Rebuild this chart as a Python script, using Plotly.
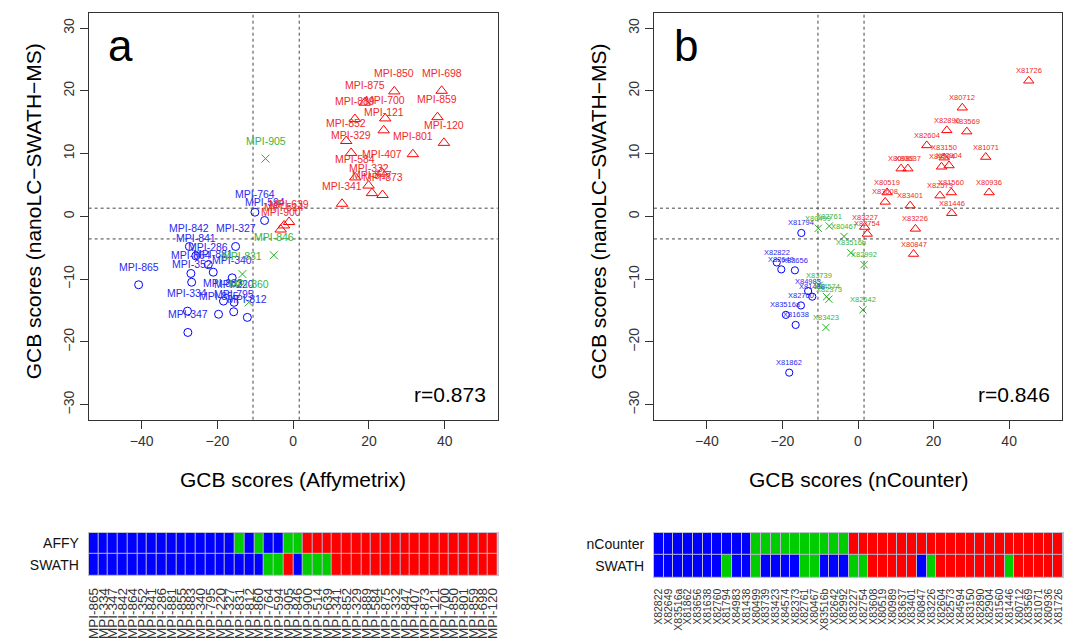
import plotly.graph_objects as go

# The page body adds an 8 px offset; the figure is sized to fill the rest of the window.
OX, OY = 8, 8
W, H = 1072 - OX, 639 - OY

# ---------------- Panel a data (sorted by Affymetrix score) ----------------
a_names = ["MPI-865", "MPI-334", "MPI-347", "MPI-842", "MPI-864", "MPI-352", "MPI-841",
           "MPI-286", "MPI-881", "MPI-855", "MPI-883", "MPI-340", "MPI-795", "MPI-220",
           "MPI-327", "MPI-831", "MPI-812", "MPI-860", "MPI-764", "MPI-594", "MPI-905",
           "MPI-846", "MPI-900", "MPI-514", "MPI-639", "MPI-341", "MPI-852", "MPI-329",
           "MPI-889", "MPI-584", "MPI-875", "MPI-332", "MPI-847", "MPI-407", "MPI-873",
           "MPI-121", "MPI-700", "MPI-850", "MPI-801", "MPI-859", "MPI-698", "MPI-120"]
a_affy = [-40.8, -27.9, -27.8, -27.4, -27.0, -26.8, -25.7, -22.4, -21.1, -19.7, -18.4,
          -16.1, -15.7, -15.6, -15.2, -13.4, -12.1, -11.7, -10.1, -7.55, -7.3, -5.1,
          -3.3, -2.4, -1.1, 12.9, 14.0, 15.3, 16.3, 16.4, 18.9, 19.9, 20.8, 23.4, 23.6,
          23.9, 24.3, 26.7, 31.6, 38.1, 39.2, 39.8]
a_swath = [-10.9, -15.1, -18.5, -4.8, -9.1, -10.5, -6.3, -7.7, -8.9, -15.6, -13.5,
           -9.8, -15.2, -13.7, -4.8, -9.2, -16.1, -13.7, 0.66, -0.66, 9.2, -6.2,
           -2.1, -1.45, -0.9, 2.0, 12.0, 10.1, 15.5, 6.2, 18.1, 4.9, 3.7, 7.0, 3.4,
           13.7, 15.6, 19.9, 9.9, 15.8, 20.0, 11.7]
a_cls_affy = ["B"] * 15 + ["G", "B", "G", "B", "B", "G", "G"] + ["R"] * 20
a_cls_swath = ["B"] * 18 + ["G", "G", "R", "B", "G", "G", "G"] + ["R"] * 17
a_r = "r=0.873"

# ---------------- Panel b data (sorted by nCounter score) ----------------
b_names = ["X82822", "X82649", "X83516a", "X81862", "X83656", "X81638", "X82760", "X81794",
           "X84983", "X81438", "X80499", "X83739", "X83423", "X84574", "X82373", "X82761",
           "X80467", "X83516b", "X82642", "X82992", "X83227", "X82754", "X83608", "X80519",
           "X80989", "X83637", "X83401", "X80847", "X83226", "X82604", "X82573", "X84594",
           "X83150", "X82890", "X82904", "X81560", "X81446", "X80712", "X83569", "X81071",
           "X80936", "X81726"]
b_ncounter = [-21.5, -20.3, -19.1, -18.2, -16.7, -16.5, -15.1, -15.0, -13.2, -12.1,
              -10.5, -10.3, -8.5, -8.3, -7.7, -7.6, -3.7, -1.9, 1.3, 1.6,
              1.75, 2.45, 7.2, 7.7, 11.4, 13.2, 13.8, 14.7, 15.2, 18.2, 21.7, 22.1,
              22.8, 23.5, 24.1, 24.7, 24.8, 27.6, 28.8, 33.8, 34.7, 45.2]
b_swath = [-7.35, -8.45, -15.7, -24.9, -8.6, -17.3, -14.2, -2.65, -11.9, -12.8,
           -1.9, -11.0, -17.7, -12.8, -13.2, -1.55, -3.2, -5.8, -14.9, -7.7,
           -1.7, -2.8, 2.3, 3.8, 7.6, 7.6, 1.7, -6.0, -2.0, 11.3, 3.3, 7.9,
           9.35, 13.7, 8.1, 3.8, 0.5, 17.3, 13.5, 9.45, 3.8, 21.6]
b_cls_nc = ["B"] * 10 + ["G"] * 10 + ["R"] * 22
b_cls_swath = (["B"] * 7 + ["G", "B", "B", "G"] + ["B"] * 4 + ["G", "G"] + ["B"] * 3 +
               ["G", "G"] + ["R"] * 5 + ["B", "G"] + ["R"] * 7 + ["G"] + ["R"] * 5)
b_r = "r=0.846"

# thresholds (dashed lines)
x_cuts = [-10.6, 1.6]
y_cuts = [1.3, -3.6]

COL = {"B": "#0000FF", "G": "#22B022", "R": "#FF0000"}
TXT = {"B": "#2a2aF0", "G": "#3CB43C", "R": "#F02a2a"}
SYM = {"B": "circle-open", "G": "x-thin-open", "R": "triangle-up-open"}
SIZE = {"B": 8, "G": 8, "R": 10}
ZV = {"B": 0, "G": 1, "R": 2}
FONT = "Liberation Sans, Arial, Helvetica, sans-serif"

def px_x(a, b):
    return [(a - OX) / W, (b - OX) / W]

def px_y(top, bot):
    return [1 - (bot - OY) / H, 1 - (top - OY) / H]

def pxx(a):
    return (a - OX) / W

def pxy(a):
    return 1 - (a - OY) / H

fig = go.Figure()
annotations = []
shapes = []

panels = [
    dict(names=a_names, x=a_affy, y=a_swath, cls=a_cls_affy, xa="x", ya="y",
         lab_size=10.5, lab_shift=18, r=a_r, letter="a", msc=1.0),
    dict(names=b_names, x=b_ncounter, y=b_swath, cls=b_cls_nc, xa="x2", ya="y2",
         lab_size=7.5, lab_shift=10, r=b_r, letter="b", msc=0.9),
]

for p in panels:
    for c in ["B", "G", "R"]:
        idx = [i for i, k in enumerate(p["cls"]) if k == c]
        fig.add_trace(go.Scatter(
            x=[p["x"][i] for i in idx], y=[p["y"][i] for i in idx],
            mode="markers", xaxis=p["xa"], yaxis=p["ya"], showlegend=False,
            marker=dict(symbol=SYM[c], size=SIZE[c] * p["msc"], color=COL[c],
                        line=dict(width=1, color=COL[c])),
            hoverinfo="skip"))
    for i, nm in enumerate(p["names"]):
        annotations.append(dict(
            x=p["x"][i], y=p["y"][i], xref=p["xa"], yref=p["ya"], text=nm,
            showarrow=False, yshift=p["lab_shift"], xanchor="center", yanchor="middle",
            font=dict(size=p["lab_size"], color=TXT[p["cls"][i]], family=FONT)))
    for v in x_cuts:
        shapes.append(dict(type="line", xref=p["xa"], yref=p["ya"] + " domain",
                           x0=v, x1=v, y0=0, y1=1,
                           line=dict(color="#444", width=1, dash="3px,3px")))
    for v in y_cuts:
        shapes.append(dict(type="line", xref=p["xa"] + " domain", yref=p["ya"],
                           x0=0, x1=1, y0=v, y1=v,
                           line=dict(color="#444", width=1, dash="3px,3px")))

# heatmaps
heat = [
    dict(names=a_names, rows=[a_cls_swath, a_cls_affy], xa="x3", ya="y3"),
    dict(names=b_names, rows=[b_cls_swath, b_cls_nc], xa="x4", ya="y4"),
]
for h in heat:
    z = [[ZV[k] for k in row] for row in h["rows"]]
    fig.add_trace(go.Heatmap(
        z=z, x=list(range(len(h["names"]))), y=[0, 1], xaxis=h["xa"], yaxis=h["ya"],
        zmin=0, zmax=2, showscale=False, xgap=1, ygap=1,
        colorscale=[[0, "#0000FF"], [0.5, "#00CD00"], [1, "#FF0000"]],
        hoverinfo="skip"))
    # faint cell separators: light backdrop behind the heatmap
    shapes.append(dict(type="rect", xref=h["xa"] + " domain", yref=h["ya"] + " domain",
                       x0=0, x1=1, y0=0, y1=1, layer="below", line=dict(width=0),
                       fillcolor="#b8b8d0"))

sc_x = dict(range=[-54, 54], tickvals=[-40, -20, 0, 20, 40], showgrid=False,
            zeroline=False, showline=True, mirror=True, linecolor="#333", linewidth=1,
            ticks="outside", ticklen=8, tickcolor="#333",
            tickfont=dict(size=14, color="#333", family=FONT))
sc_y = dict(range=[-32.4, 32.4], tickvals=[-30, -20, -10, 0, 10, 20, 30], showgrid=False,
            zeroline=False, showline=True, mirror=True, linecolor="#333", linewidth=1,
            ticks="outside", ticklen=8, tickcolor="#333", tickangle=-90,
            tickfont=dict(size=14, color="#333", family=FONT))

def hx(names, fs):
    return dict(range=[-0.5, len(names) - 0.5], tickvals=list(range(len(names))),
                ticktext=names, tickangle=-90, showgrid=False, zeroline=False,
                showline=True, mirror=True, linecolor="#c0c0d0", linewidth=1,
                ticks="outside", ticklen=6, tickcolor="rgba(0,0,0,0)",
                tickfont=dict(size=fs, color="#333", family=FONT))

def hy(labels):
    return dict(range=[-0.5, 1.5], tickvals=[0, 1], ticktext=labels, showgrid=False,
                zeroline=False, showline=True, mirror=True, linecolor="#c0c0d0",
                linewidth=1, ticks="outside", ticklen=6, tickcolor="rgba(0,0,0,0)",
                tickfont=dict(size=14, color="#111", family=FONT))

fig.update_layout(
    width=W, height=H, margin=dict(l=0, r=0, t=0, b=0),
    paper_bgcolor="white", plot_bgcolor="white",
    font=dict(family=FONT),
    xaxis=dict(sc_x, domain=px_x(86, 497), anchor="y"),
    yaxis=dict(sc_y, domain=px_y(13, 423), anchor="x"),
    xaxis2=dict(sc_x, domain=px_x(654, 1064), anchor="y2"),
    yaxis2=dict(sc_y, domain=px_y(13, 423), anchor="x2"),
    xaxis3=dict(hx(a_names, 13.5), domain=px_x(86, 497), anchor="y3"),
    yaxis3=dict(hy(["SWATH", "AFFY"]), domain=px_y(537, 580), anchor="x3"),
    xaxis4=dict(hx(b_names, 10.5), domain=px_x(654, 1065), anchor="y4"),
    yaxis4=dict(hy(["SWATH", "nCounter"]), domain=px_y(537, 582), anchor="x4"),
)

# letters, r values, axis titles
for p, xl, xr, ytitle_x, xtitle in [
        (panels[0], 86, 497, 30, "GCB scores (Affymetrix)"),
        (panels[1], 654, 1064, 598, "GCB scores (nCounter)")]:
    annotations.append(dict(x=pxx(xl + 32), y=pxy(46), xref="paper", yref="paper",
                            xanchor="center", yanchor="middle",
                            text=p["letter"], showarrow=False,
                            font=dict(size=44, color="black", family=FONT)))
    annotations.append(dict(x=pxx(xr - 10), y=pxy(398), xref="paper", yref="paper",
                            xanchor="right", yanchor="middle", text=p["r"], showarrow=False,
                            font=dict(size=21, color="black", family=FONT)))
    annotations.append(dict(x=pxx((xl + xr) / 2), y=pxy(483), xref="paper", yref="paper",
                            xanchor="center", yanchor="middle",
                            text=xtitle, showarrow=False,
                            font=dict(size=21, color="black", family=FONT)))
    annotations.append(dict(x=pxx(ytitle_x), y=pxy(213), xref="paper", yref="paper",
                            xanchor="center", yanchor="middle",
                            text="GCB scores (nanoLC\u2212SWATH\u2212MS)", textangle=-90,
                            showarrow=False, font=dict(size=21, color="black", family=FONT)))

fig.update_layout(annotations=annotations, shapes=shapes)
fig.write_html("out.html")
